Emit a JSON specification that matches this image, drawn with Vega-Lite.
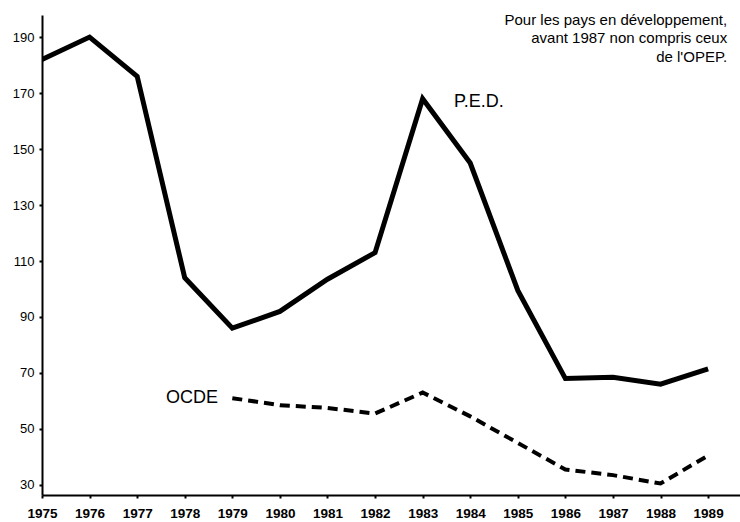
{
  "$schema": "https://vega.github.io/schema/vega-lite/v6.json",
  "width": 698,
  "height": 480,
  "autosize": "none",
  "padding": {"left": 42, "top": 15, "right": 0, "bottom": 27},
  "background": "white",
  "config": {
    "view": {"stroke": null},
    "font": "Liberation Sans Narrow, Liberation Sans, Arial, sans-serif"
  },
  "datasets": {
    "series": [
      {"year": 1975, "value": 182, "serie": "P.E.D."},
      {"year": 1976, "value": 190, "serie": "P.E.D."},
      {"year": 1977, "value": 176, "serie": "P.E.D."},
      {"year": 1978, "value": 104, "serie": "P.E.D."},
      {"year": 1979, "value": 86, "serie": "P.E.D."},
      {"year": 1980, "value": 92, "serie": "P.E.D."},
      {"year": 1981, "value": 103.5, "serie": "P.E.D."},
      {"year": 1982, "value": 113, "serie": "P.E.D."},
      {"year": 1983, "value": 168, "serie": "P.E.D."},
      {"year": 1984, "value": 145, "serie": "P.E.D."},
      {"year": 1985, "value": 99.5, "serie": "P.E.D."},
      {"year": 1986, "value": 68, "serie": "P.E.D."},
      {"year": 1987, "value": 68.5, "serie": "P.E.D."},
      {"year": 1988, "value": 66, "serie": "P.E.D."},
      {"year": 1989, "value": 71.5, "serie": "P.E.D."},
      {"year": 1979, "value": 61, "serie": "OCDE"},
      {"year": 1980, "value": 58.5, "serie": "OCDE"},
      {"year": 1981, "value": 57.5, "serie": "OCDE"},
      {"year": 1982, "value": 55.5, "serie": "OCDE"},
      {"year": 1983, "value": 63, "serie": "OCDE"},
      {"year": 1984, "value": 54.5, "serie": "OCDE"},
      {"year": 1985, "value": 45, "serie": "OCDE"},
      {"year": 1986, "value": 35.5, "serie": "OCDE"},
      {"year": 1987, "value": 33.5, "serie": "OCDE"},
      {"year": 1988, "value": 30.5, "serie": "OCDE"},
      {"year": 1989, "value": 40.5, "serie": "OCDE"}
    ],
    "labelPED": [
      {"year": 1983.66, "value": 166.8, "text": "P.E.D."}
    ],
    "labelOCDE": [
      {"year": 1978.7, "value": 61, "text": "OCDE"}
    ],
    "note": [
      {"year": 1989.4, "value": 196.2, "text": "Pour les pays en développement,"},
      {"year": 1989.4, "value": 189.6, "text": "avant 1987 non compris ceux"},
      {"year": 1989.4, "value": 183, "text": "de l'OPEP."}
    ]
  },
  "layer": [
    {
      "data": {"name": "series"},
      "transform": [{"filter": "datum.serie === 'P.E.D.'"}],
      "mark": {"type": "line", "color": "black", "strokeWidth": 5, "strokeJoin": "miter", "clip": true},
      "encoding": {
        "x": {
          "field": "year", "type": "quantitative",
          "scale": {"domain": [1975, 1989.67], "nice": false, "zero": false},
          "axis": {
            "title": null, "values": [1975,1976,1977,1978,1979,1980,1981,1982,1983,1984,1985,1986,1987,1988,1989],
            "format": "d", "grid": false, "domainColor": "black", "domainWidth": 2,
            "tickColor": "black", "tickSize": 3, "tickWidth": 2,
            "labelColor": "black", "labelFontSize": 13.5, "labelFontWeight": "bold", "labelPadding": 8,
            "labelFlush": false
          }
        },
        "y": {
          "field": "value", "type": "quantitative",
          "scale": {"domain": [26.4, 197.9], "nice": false, "zero": false},
          "axis": {
            "title": null, "values": [30,40,50,60,70,80,90,100,110,120,130,140,150,160,170,180,190],
            "labelExpr": "datum.value % 20 == 10 ? datum.label : ''",
            "grid": false, "domainColor": "black", "domainWidth": 2,
            "tickColor": "black", "tickSize": 3, "tickWidth": 2,
            "labelColor": "black", "labelFontSize": 13, "labelPadding": 5
          }
        }
      }
    },
    {
      "data": {"name": "series"},
      "transform": [{"filter": "datum.serie === 'OCDE'"}],
      "mark": {"type": "line", "color": "black", "strokeWidth": 4, "strokeDash": [10, 6], "strokeJoin": "miter"},
      "encoding": {
        "x": {"field": "year", "type": "quantitative"},
        "y": {"field": "value", "type": "quantitative"}
      }
    },
    {
      "data": {"name": "labelPED"},
      "mark": {"type": "text", "fontSize": 18, "color": "black", "align": "left", "baseline": "middle"},
      "encoding": {
        "x": {"field": "year", "type": "quantitative"},
        "y": {"field": "value", "type": "quantitative"},
        "text": {"field": "text"}
      }
    },
    {
      "data": {"name": "labelOCDE"},
      "mark": {"type": "text", "fontSize": 18, "color": "black", "align": "right", "baseline": "middle"},
      "encoding": {
        "x": {"field": "year", "type": "quantitative"},
        "y": {"field": "value", "type": "quantitative"},
        "text": {"field": "text"}
      }
    },
    {
      "data": {"name": "note"},
      "mark": {"type": "text", "fontSize": 15, "color": "black", "align": "right", "baseline": "middle"},
      "encoding": {
        "x": {"field": "year", "type": "quantitative"},
        "y": {"field": "value", "type": "quantitative"},
        "text": {"field": "text"}
      }
    }
  ]
}
